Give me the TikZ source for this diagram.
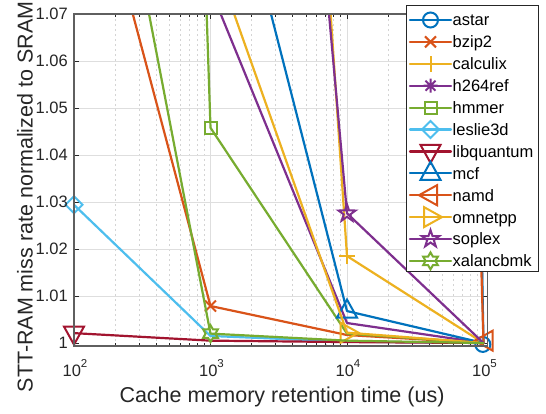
\documentclass[tikz,border=0pt]{standalone}
\usepackage{fontspec}
\setmainfont{Liberation Sans}
\definecolor{cA}{RGB}{0,114,189}
\definecolor{cB}{RGB}{217,83,25}
\definecolor{cC}{RGB}{237,177,32}
\definecolor{cD}{RGB}{126,47,142}
\definecolor{cE}{RGB}{119,172,48}
\definecolor{cF}{RGB}{77,190,238}
\definecolor{cG}{RGB}{162,20,47}
\definecolor{axc}{RGB}{95,95,95}
\definecolor{grc}{RGB}{222,222,222}
\definecolor{mgc}{RGB}{212,212,212}
\definecolor{txc}{RGB}{38,38,38}
\tikzset{
  dline/.style={line width=2.2pt, line join=round, line cap=round},
  mk/.style={line width=2pt, line join=miter},
  gridmaj/.style={grc, line width=0.8pt},
  gridmin/.style={mgc, line width=0.6pt, dash pattern=on 2.5pt off 2.5pt},
  axisline/.style={axc, line width=1.1pt},
  tickline/.style={txc, line width=0.8pt},
  ticktext/.style={txc, inner sep=0pt, font=\fontsize{16.5}{18}\selectfont},
  labtext/.style={txc, inner sep=0pt, font=\fontsize{21.5}{24}\selectfont},
  legtext/.style={black, inner sep=0pt, font=\fontsize{16.5}{18}\selectfont},
  legframe/.style={fill=white, draw=txc, line width=0.9pt},
  pics/mo/.style={code={\draw[mk,#1] (0,0) circle (7.5pt);}},
  pics/mx/.style={code={\draw[mk,#1] (-5.5pt,-5.5pt) -- (5.5pt,5.5pt) (-5.5pt,5.5pt) -- (5.5pt,-5.5pt);}},
  pics/mp/.style={code={\draw[mk,#1] (-8pt,0pt) -- (8pt,0pt) (0pt,-8pt) -- (0pt,8pt);}},
  pics/ma/.style={code={\draw[mk,#1] (-7pt,0pt) -- (7pt,0pt) (0pt,-7pt) -- (0pt,7pt) (-5pt,-5pt) -- (5pt,5pt) (-5pt,5pt) -- (5pt,-5pt);}},
  pics/ms/.style={code={\draw[mk,#1] (-6pt,-6pt) rectangle (6pt,6pt);}},
  pics/md/.style={code={\draw[mk,#1] (-8.5pt,0pt) -- (0pt,8.5pt) -- (8.5pt,0pt) -- (0pt,-8.5pt) -- cycle;}},
  pics/mv/.style={code={\draw[mk,#1] (-10pt,6.5pt) -- (10pt,6.5pt) -- (0pt,-11.5pt) -- cycle;}},
  pics/mu/.style={code={\draw[mk,#1] (-10pt,-6.5pt) -- (10pt,-6.5pt) -- (0pt,11.5pt) -- cycle;}},
  pics/ml/.style={code={\draw[mk,#1] (6.5pt,-10pt) -- (6.5pt,10pt) -- (-11.5pt,0pt) -- cycle;}},
  pics/mr/.style={code={\draw[mk,#1] (-6.5pt,-10pt) -- (-6.5pt,10pt) -- (11.5pt,0pt) -- cycle;}},
  pics/mpent/.style={code={\draw[mk,#1] (90:9pt) -- (126:3.5pt) -- (162:9pt) -- (198:3.5pt) -- (234:9pt) -- (270:3.5pt) -- (306:9pt) -- (342:3.5pt) -- (18:9pt) -- (54:3.5pt) -- cycle;}},
  pics/mhex/.style={code={\draw[mk,#1] (90:8.5pt) -- (120:4.9pt) -- (150:8.5pt) -- (180:4.9pt) -- (210:8.5pt) -- (240:4.9pt) -- (270:8.5pt) -- (300:4.9pt) -- (330:8.5pt) -- (0:4.9pt) -- (30:8.5pt) -- (60:4.9pt) -- cycle;}},
}
\newcommand{\plotser}[2]{\begin{scope}\clip (0,-0.064) rectangle (3.026,7);\draw[dline,#1] #2;\end{scope}}
\newcommand{\legent}[4]{%
  \draw[dline,#2] (410,#1) -- (451,#1);
  \pic at (430.5,#1) {#3=#2};
  \node[legtext,anchor=base west] (lg#4) at (452.5,#1+5.9) {#4};}
\begin{document}
\begin{tikzpicture}[x=1pt,y=-1pt]
\fill[white] (0,0) rectangle (546,413);
\useasboundingbox (0,0) rectangle (546,413);
\begin{scope}[shift={(74pt,-343pt)},x=136.5pt,y=47pt]
  % grid
  \foreach \k in {0,1,2}
    \foreach \m in {0.30103,0.47712,0.60206,0.69897,0.77815,0.84510,0.90309,0.95424}
      \draw[gridmin] ({\k+\m},-0.064) -- ({\k+\m},7);
  \foreach \v in {1,...,6} \draw[gridmaj] (0,\v) -- (3.026,\v);
  \foreach \u in {1,2,3} \draw[gridmaj] (\u,-0.064) -- (\u,7);
  % ticks
  \foreach \k in {0,1,2}
    \foreach \m in {0.30103,0.47712,0.60206,0.69897,0.77815,0.84510,0.90309,0.95424} {
      \draw[tickline] ({\k+\m},-0.064) -- ++(0,3pt);
      \draw[tickline] ({\k+\m},7) -- ++(0,-3pt);}
  \foreach \u in {1,2,3} {
    \draw[tickline] (\u,-0.064) -- ++(0,5pt);
    \draw[tickline] (\u,7) -- ++(0,-5pt);}
  \foreach \v in {0,...,7} {
    \draw[tickline] (0,\v) -- ++(5pt,0);
    \draw[tickline] (3.026,\v) -- ++(-5pt,0);}
  % series (one marker each, as in the reference)
  \plotser{cA}{(2,150) -- (3,0)}
  \pic at (2.995,-0.03) {mo=cA};
  \plotser{cB}{(0,11.7) -- (1,0.787) -- (2,0.17) -- (3,0)}
  \pic at (1,0.787) {mx=cB};
  \plotser{cC}{(1,44.8) -- (2,1.85) -- (3,0)}
  \pic at (2,1.85) {mp=cC};
  \plotser{cD}{(1,7.53) -- (2,0.425) -- (3,0)}
  \plotser{cE}{(0,90.6) -- (1,4.58) -- (2,0.2) -- (3,0)}
  \pic at (1,4.58) {ms=cE};
  \plotser{cF}{(0,2.94) -- (1,0.15) -- (2,0.03) -- (3,0)}
  \pic at (0,2.94) {md=cF};
  \plotser{cG}{(0,0.21) -- (1,0.05) -- (2,0.02) -- (3,0)}
  \pic at (0,0.21) {mv=cG};
  \plotser{cA}{(1,12.03) -- (2,0.68) -- (3,0)}
  \pic at (2,0.68) {mu=cA};
  \plotser{cB}{(2,100) -- (3,0)}
  \pic at (3.02,0.05) {ml=cB};
  \plotser{cC}{(1,8.42) -- (2,0.22) -- (3,0)}
  \pic at (2,0.22) {mr=cC};
  \plotser{cD}{(1,34.9) -- (2,2.76) -- (3,0)}
  \pic at (2,2.76) {mpent=cD};
  \plotser{cE}{(0,15.3) -- (1,0.2) -- (2,0.05) -- (3,0)}
  \pic at (1,0.2) {mhex=cE};
  % axes box
  \draw[axisline] (0,-0.064) rectangle (3.026,7);
\end{scope}
% y tick labels
\node[ticktext,anchor=east] (yt0) at (68,343) {1};
\node[ticktext,anchor=east] (yt1) at (68,296) {1.01};
\node[ticktext,anchor=east] (yt2) at (68,249) {1.02};
\node[ticktext,anchor=east] (yt3) at (68,202) {1.03};
\node[ticktext,anchor=east] (yt4) at (68,155) {1.04};
\node[ticktext,anchor=east] (yt5) at (68,108) {1.05};
\node[ticktext,anchor=east] (yt6) at (68,61) {1.06};
\node[ticktext,anchor=east] (yt7) at (68,14) {1.07};
% x tick labels
\node[ticktext,anchor=base] (xt2) at (75,376) {10\raisebox{8.5pt}{\fontsize{11.5}{12}\selectfont 2}};
\node[ticktext,anchor=base] (xt3) at (211.5,376) {10\raisebox{8.5pt}{\fontsize{11.5}{12}\selectfont 3}};
\node[ticktext,anchor=base] (xt4) at (348,376) {10\raisebox{8.5pt}{\fontsize{11.5}{12}\selectfont 4}};
\node[ticktext,anchor=base] (xt5) at (484.5,376) {10\raisebox{8.5pt}{\fontsize{11.5}{12}\selectfont 5}};
% axis labels
\node[labtext] (xlab) at (282,397) {Cache memory retention time (us)};
\node[labtext,rotate=90] (ylab) at (25,197) {STT-RAM miss rate normalized to SRAM};
% legend
\draw[legframe] (406,5) rectangle (538.5,271.7);
\legent{20}{cA}{mo}{astar}
\legent{41.9}{cB}{mx}{bzip2}
\legent{63.8}{cC}{mp}{calculix}
\legent{85.7}{cD}{ma}{h264ref}
\legent{107.6}{cE}{ms}{hmmer}
\legent{129.5}{cF}{md}{leslie3d}
\legent{151.4}{cG}{mv}{libquantum}
\legent{173.3}{cA}{mu}{mcf}
\legent{195.2}{cB}{ml}{namd}
\legent{217.1}{cC}{mr}{omnetpp}
\legent{239}{cD}{mpent}{soplex}
\legent{260.9}{cE}{mhex}{xalancbmk}
\end{tikzpicture}
\end{document}
